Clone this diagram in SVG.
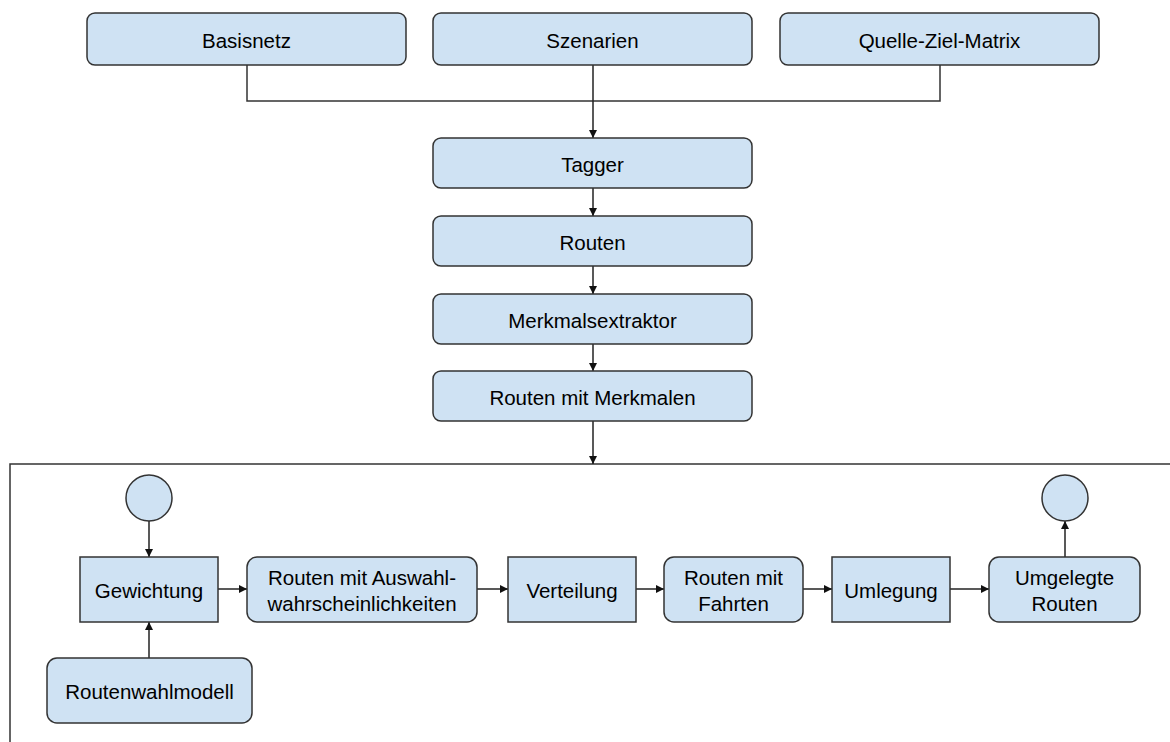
<svg xmlns="http://www.w3.org/2000/svg" width="1170" height="742" viewBox="0 0 1170 742">
<style>
.n{fill:#cfe2f3;stroke:#333;stroke-width:1.5}
.t{font-family:"Liberation Sans",Arial,sans-serif;font-size:20.5px;fill:#000;text-anchor:middle;dominant-baseline:central}
.c{fill:none;stroke:#333;stroke-width:1.5}
.a{fill:none;stroke:#222;stroke-width:1.5;marker-end:url(#ah)}
</style>
<defs>
<marker id="ah" viewBox="0 0 10 10" refX="10" refY="5" markerWidth="8" markerHeight="8" markerUnits="userSpaceOnUse" orient="auto">
<path d="M0,0 L10,5 L0,10 z" fill="#111"/>
</marker>
</defs>
<rect width="1170" height="742" fill="#fff"/>
<g id="frame"><path class="c" d="M1170,464 H10 V742"/></g>
<g id="connectors">
<path class="c" d="M247,65 V101 H940 V65"/>
<path class="a" d="M593,65 V138"/>
<path class="a" d="M593,188 V216"/>
<path class="a" d="M593,266 V294"/>
<path class="a" d="M593,344 V371"/>
<path class="a" d="M593,421 V464"/>
<path class="a" d="M149,521 V557"/>
<path class="a" d="M149,658 V622"/>
<path class="a" d="M218,589 H247"/>
<path class="a" d="M477,589 H508"/>
<path class="a" d="M636,589 H664"/>
<path class="a" d="M803,589 H832"/>
<path class="a" d="M950,589 H989"/>
<path class="a" d="M1065,557 V521"/>
</g>
<g id="basisnetz"><rect class="n" x="87" y="13" width="319" height="52" rx="8"/><text class="t" x="246.5" y="40">Basisnetz</text></g>
<g id="szenarien"><rect class="n" x="433" y="13" width="319" height="52" rx="8"/><text class="t" x="592.5" y="40">Szenarien</text></g>
<g id="quelle"><rect class="n" x="780" y="13" width="319" height="52" rx="8"/><text class="t" x="939.5" y="40">Quelle-Ziel-Matrix</text></g>
<g id="tagger"><rect class="n" x="433" y="138" width="319" height="50" rx="8"/><text class="t" x="592.5" y="164">Tagger</text></g>
<g id="routen"><rect class="n" x="433" y="216" width="319" height="50" rx="8"/><text class="t" x="592.5" y="242">Routen</text></g>
<g id="merkmalsextraktor"><rect class="n" x="433" y="294" width="319" height="50" rx="8"/><text class="t" x="592.5" y="320">Merkmalsextraktor</text></g>
<g id="routenMerkmale"><rect class="n" x="433" y="371" width="319" height="50" rx="8"/><text class="t" x="592.5" y="397">Routen mit Merkmalen</text></g>
<g id="startCircle"><circle class="n" cx="149" cy="498" r="23"/></g>
<g id="endCircle"><circle class="n" cx="1065" cy="498" r="23"/></g>
<g id="gewichtung"><rect class="n" x="80" y="557" width="138" height="65"/><text class="t" x="149" y="590">Gewichtung</text></g>
<g id="routenwahlmodell"><rect class="n" x="47" y="658" width="205" height="65" rx="10"/><text class="t" x="149.5" y="691">Routenwahlmodell</text></g>
<g id="auswahl"><rect class="n" x="247" y="557" width="230" height="65" rx="10"/><text class="t" x="362" y="577">Routen mit Auswahl-</text><text class="t" x="362" y="603">wahrscheinlichkeiten</text></g>
<g id="verteilung"><rect class="n" x="508" y="557" width="128" height="65"/><text class="t" x="572" y="590">Verteilung</text></g>
<g id="fahrten"><rect class="n" x="664" y="557" width="139" height="65" rx="10"/><text class="t" x="733.5" y="577">Routen mit</text><text class="t" x="733.5" y="603">Fahrten</text></g>
<g id="umlegung"><rect class="n" x="832" y="557" width="118" height="65"/><text class="t" x="891" y="590">Umlegung</text></g>
<g id="umgelegt"><rect class="n" x="989" y="557" width="151" height="65" rx="10"/><text class="t" x="1064.5" y="577">Umgelegte</text><text class="t" x="1064.5" y="603">Routen</text></g>
</svg>
